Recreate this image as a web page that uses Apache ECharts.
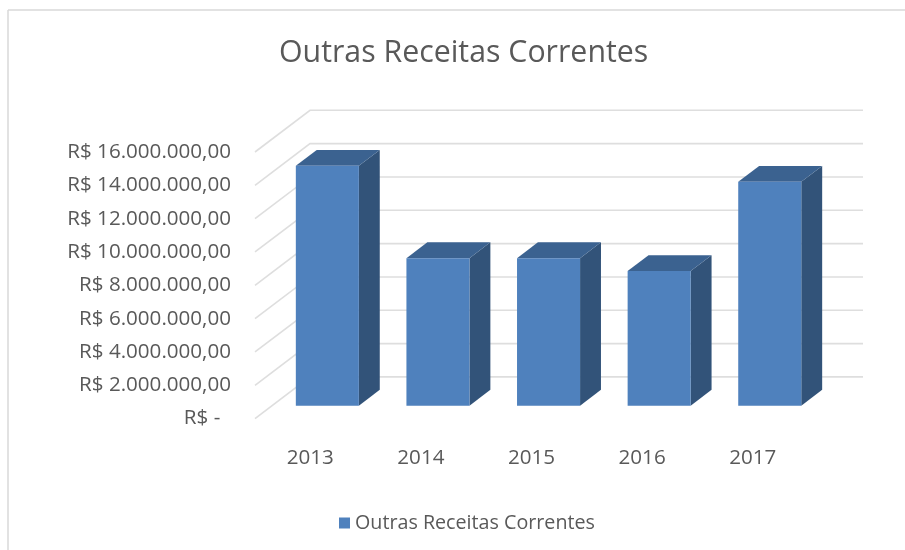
<!DOCTYPE html>
<html><head><meta charset="utf-8">
<style>html,body{margin:0;padding:0;background:#fff}#c{width:905px;height:550px}</style>
<script src="https://cdn.jsdelivr.net/npm/echarts@6/dist/echarts.min.js"></script>
</head><body><div id="c"></div>
<script>
const categories = ['2013','2014','2015','2016','2017'];
const receitas = [14400000, 8850000, 8850000, 8080000, 13440000];
const gridTicks = [0,2000000,4000000,6000000,8000000,10000000,12000000,14000000,16000000];
const seriesName = 'Outras Receitas Correntes';

const FONT = '"Open Sans"';
const TEXT = '#595959';
const DEPTH_X = 55, DEPTH_Y = 41.7;
const BAR_NEAR = 0.31, BAR_FAR = 0.69, BAR_W = 0.57;

function fmt(v){
  if(v===0) return 'R$ -  ';
  const s = String(v).replace(/\B(?=(\d{3})+$)/g,'.');
  return 'R$ ' + s + ',00';
}
const chart = echarts.init(document.getElementById('c'),null,{renderer:'canvas'});
chart.setOption({
  animation:false,
  backgroundColor:'#fff',
  title:{text:seriesName,left:279,top:38,padding:0,
    textStyle:{fontFamily:FONT,fontSize:30.3,fontWeight:'normal',color:TEXT}},
  legend:{data:[seriesName],left:339,top:513,padding:0,itemWidth:11,itemHeight:11,itemGap:8,icon:'rect',
    textStyle:{fontFamily:FONT,fontSize:19.7,color:TEXT}},
  graphic:[
    {type:'line',silent:true,shape:{x1:8,y1:10,x2:905,y2:10},style:{stroke:'#d9d9d9',lineWidth:1.5}},
    {type:'line',silent:true,shape:{x1:8,y1:10,x2:8,y2:550},style:{stroke:'#d9d9d9',lineWidth:1.5}}
  ],
  grid:{left:255,right:97,top:152,bottom:131.4,containLabel:false},
  xAxis:{type:'category',data:categories,axisLine:{show:false},axisTick:{show:false},
    axisLabel:{margin:29,fontFamily:FONT,fontSize:20.6,color:TEXT}},
  yAxis:{type:'value',min:0,max:16000000,interval:2000000,splitLine:{show:false},axisLine:{show:false},axisTick:{show:false},
    axisLabel:{margin:24,fontFamily:FONT,fontSize:20.6,color:TEXT,formatter:fmt}},
  series:[
    {type:'custom',coordinateSystem:'cartesian2d',silent:true,z:1,data:gridTicks.map(v=>[0,v]),
      renderItem(params,api){
        const y = api.coord([0,api.value(1)])[1];
        const cs = params.coordSys;
        return {type:'polyline',shape:{points:[[cs.x,y],[cs.x+DEPTH_X,y-DEPTH_Y],[cs.x+cs.width+DEPTH_X,y-DEPTH_Y]]},
          style:{fill:null,stroke:'#dedede',lineWidth:1.6}};
      }},
    {name:seriesName,type:'custom',coordinateSystem:'cartesian2d',silent:true,z:2,
      itemStyle:{color:'#4f81bd'},
      encode:{x:0,y:1},
      data:receitas.map((v,i)=>[i,v]),
      renderItem(params,api){
        const top = api.coord([api.value(0),api.value(1)]);
        const base = api.coord([api.value(0),0]);
        const w = api.size([1,0])[0]*BAR_W;
        const nx = DEPTH_X*BAR_NEAR, ny = DEPTH_Y*BAR_NEAR;
        const fx = DEPTH_X*(BAR_FAR-BAR_NEAR), fy = DEPTH_Y*(BAR_FAR-BAR_NEAR);
        const x0 = top[0]+nx-w/2, x1 = x0+w, yT = top[1]-ny, yB = base[1]-ny;
        return {type:'group',children:[
          {type:'polygon',shape:{points:[[x1,yT],[x1+fx,yT-fy],[x1+fx,yB-fy],[x1,yB]]},style:{fill:'#325379'}},
          {type:'polygon',shape:{points:[[x0,yT],[x0+fx,yT-fy],[x1+fx,yT-fy],[x1,yT]]},style:{fill:'#3b6290'}},
          {type:'rect',shape:{x:x0,y:yT,width:w,height:yB-yT},style:{fill:'#4f81bd'}}
        ]};
      }}
  ]
});
</script></body></html>
